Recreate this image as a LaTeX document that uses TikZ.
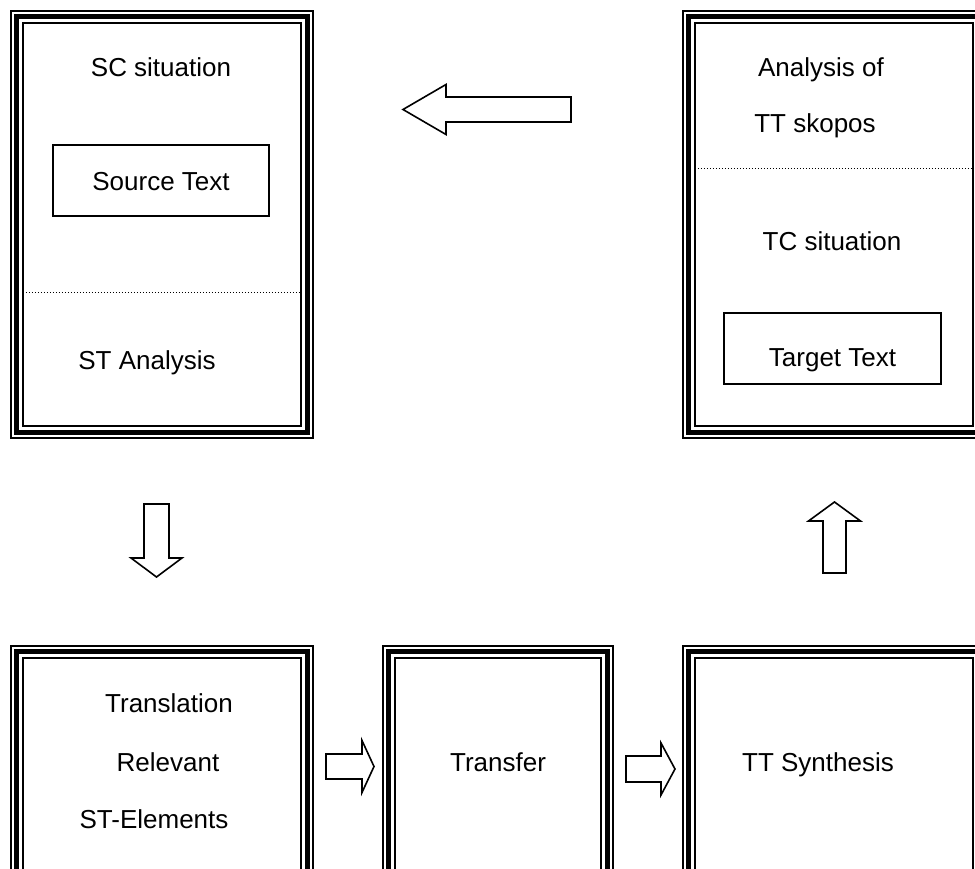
\documentclass[tikz,border=0pt]{standalone}
\usepackage{fontspec}
\setmainfont{Liberation Sans}
\usetikzlibrary{calc}

% triple-line frame around a named node: thin outer, thick middle, thin inner
\newcommand\tripleframe[1]{%
  \draw[line width=2pt]   ([shift={(1,1)}]#1.north west)  rectangle ([shift={(-1,-1)}]#1.south east);
  \draw[line width=5pt]   ([shift={(6.5,6.5)}]#1.north west)  rectangle ([shift={(-6.5,-6.5)}]#1.south east);
  \draw[line width=2pt]   ([shift={(13,13)}]#1.north west) rectangle ([shift={(-13,-13)}]#1.south east);
}

\tikzset{
  x=1pt, y=-1pt,
  framebox/.style={draw=none, inner sep=0pt, minimum width=#1},
  inbox/.style={draw, line width=1.5pt, inner sep=0pt},
  lbl/.style={anchor=base, inner sep=0pt, font=\fontsize{26}{30}\selectfont},
  sep/.style={line width=1.2pt, dash pattern=on 1.3pt off 1.7pt},
  arrowline/.style={draw, line width=1.6pt, line join=miter, fill=white},
  % block arrow: head base at #1, tip at #2, shaft half width #3, head half width #4
  pics/blockarrow/.style n args={4}{code={
    \draw[arrowline] (0,-#3) -- (#1,-#3) -- (#1,-#4) -- (#2,0) -- (#1,#4) -- (#1,#3) -- (0,#3) -- cycle;
  }},
}

\begin{document}
\begin{tikzpicture}
\useasboundingbox (0,0) rectangle (975,869);
\clip (0,0) rectangle (975,869);

% outer frames
\node[framebox=304pt, minimum height=429pt] (sc)  at (162,224.5) {};
\node[framebox=304pt, minimum height=429pt] (tc)  at (834,224.5) {};
\node[framebox=304pt, minimum height=260pt] (rel) at (162,775) {};
\node[framebox=232pt, minimum height=260pt] (tra) at (498,775) {};
\node[framebox=304pt, minimum height=260pt] (syn) at (834,775) {};
\foreach \b in {sc,tc,rel,tra,syn}{\tripleframe{\b}}

% separators inside the two tall frames
\draw[sep] ($(sc.north west)+(13,283)$) -- ($(sc.north east)+(-13,283)$);
\draw[sep] ($(tc.north west)+(13,159)$) -- ($(tc.north east)+(-13,159)$);

% inner text boxes
\node[inbox, minimum width=216pt, minimum height=71pt] (src) at (161,180.5) {};
\node[inbox, minimum width=217pt, minimum height=71pt] (tgt) at (832.5,348.5) {};

% labels
\node[lbl] (lsc)  at (161,77)  {SC situation};
\node[lbl] (lsrc) at (src.center |- 0,191) {Source Text};
\node[lbl] (lsta) at (147,369) {ST Analysis};
\node[lbl] (lan)  at (821,77)  {Analysis of};
\node[lbl] (lsk)  at (815,133) {TT skopos};
\node[lbl] (ltc)  at (832,251) {TC situation};
\node[lbl] (ltgt) at (tgt.center |- 0,366) {Target Text};
\node[lbl] (ltr1) at (169,712) {Translation};
\node[lbl] (ltr2) at (168,771) {Relevant};
\node[lbl] (ltr3) at (154,828) {ST-Elements};
\node[lbl] (ltra) at (tra.center |- 0,771) {Transfer};
\node[lbl] (lsyn) at (818,771) {TT Synthesis};

% block arrows between the frames
\pic[rotate=180] at (571,109.5) {blockarrow={125}{168}{12.5}{25}};
\pic[rotate=-90] at (156.5,504) {blockarrow={54}{73}{12.5}{25.5}};
\pic[rotate=90]  at (834.5,573) {blockarrow={52}{71}{11.5}{26}};
\pic at (326,766.5) {blockarrow={36}{48}{12.5}{26}};
\pic at (626,769)   {blockarrow={35}{49}{13}{26}};
\end{tikzpicture}
\end{document}
